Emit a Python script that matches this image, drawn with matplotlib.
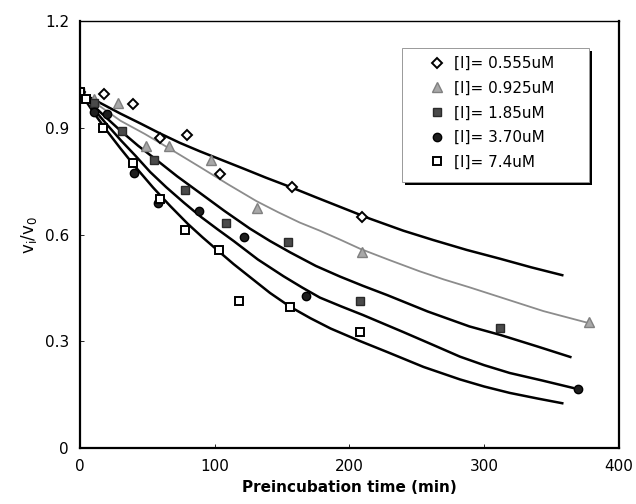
import matplotlib
matplotlib.use('Agg')
import matplotlib.pyplot as plt
from matplotlib.patches import Rectangle

# measured points (time in min, vi/v0)
t_0555 = [0, 18, 39, 59, 79, 104, 157, 209]
v_0555 = [1.0, 0.995, 0.967, 0.871, 0.88, 0.77, 0.734, 0.649]
t_0925 = [0, 10, 28, 49, 66, 97, 131, 209, 378]
v_0925 = [1.0, 0.98, 0.97, 0.85, 0.85, 0.81, 0.674, 0.551, 0.354]
t_185 = [0, 10, 31, 55, 78, 108, 154, 208, 312]
v_185 = [1.0, 0.97, 0.89, 0.81, 0.725, 0.632, 0.58, 0.413, 0.337]
t_370 = [0, 10, 20, 40, 58, 88, 122, 168, 370]
v_370 = [1.0, 0.945, 0.94, 0.772, 0.689, 0.667, 0.593, 0.428, 0.165]
t_74 = [0, 4, 17, 39, 59, 78, 103, 118, 156, 208]
v_74 = [1.0, 0.98, 0.90, 0.80, 0.70, 0.613, 0.558, 0.413, 0.397, 0.325]

# fitted curves
fit_t_0555 = [0, 15, 30, 45, 59, 74, 89, 105, 121, 138, 156, 175, 193, 215, 240, 262, 287, 312, 335, 358]
fit_v_0555 = [1.0, 0.97, 0.94, 0.912, 0.885, 0.858, 0.834, 0.81, 0.786, 0.76, 0.734, 0.705, 0.678, 0.645, 0.611, 0.585, 0.557, 0.532, 0.508, 0.486]
fit_t_0925 = [0, 15, 30, 48, 65, 89, 110, 131, 147, 163, 178, 193, 208, 230, 252, 270, 289, 312, 344, 378]
fit_v_0925 = [1.0, 0.96, 0.92, 0.883, 0.845, 0.79, 0.741, 0.694, 0.663, 0.634, 0.611, 0.586, 0.560, 0.528, 0.497, 0.474, 0.452, 0.424, 0.385, 0.351]
fit_t_185 = [0, 15, 30, 43, 56, 72, 89, 107, 126, 141, 156, 175, 193, 210, 228, 258, 289, 312, 340, 364]
fit_v_185 = [1.0, 0.944, 0.892, 0.85, 0.812, 0.764, 0.717, 0.667, 0.617, 0.582, 0.55, 0.512, 0.482, 0.456, 0.43, 0.384, 0.342, 0.318, 0.285, 0.256]
fit_t_370 = [0, 10, 20, 30, 41, 52, 64, 77, 90, 102, 114, 132, 151, 165, 178, 194, 210, 240, 262, 282, 300, 319, 343, 366]
fit_v_370 = [1.0, 0.953, 0.909, 0.866, 0.822, 0.776, 0.733, 0.69, 0.649, 0.615, 0.582, 0.53, 0.483, 0.451, 0.423, 0.398, 0.374, 0.326, 0.29, 0.257, 0.233, 0.211, 0.19, 0.169]
fit_t_74 = [0, 10, 20, 30, 40, 54, 67, 80, 91, 102, 114, 126, 141, 156, 171, 186, 207, 228, 255, 282, 300, 319, 340, 358]
fit_v_74 = [1.0, 0.943, 0.891, 0.842, 0.795, 0.733, 0.68, 0.63, 0.592, 0.556, 0.517, 0.481, 0.436, 0.397, 0.365, 0.336, 0.302, 0.27, 0.228, 0.193, 0.173, 0.155, 0.139, 0.126]

fig = plt.figure(figsize=(6.36, 5.04), dpi=100)
ax = fig.add_axes([0.126, 0.111, 0.847, 0.847])

# curves
ax.plot(fit_t_0555, fit_v_0555, '-', color='black', lw=1.8)
ax.plot(fit_t_0925, fit_v_0925, '-', color='#8c8c8c', lw=1.3)
ax.plot(fit_t_185, fit_v_185, '-', color='black', lw=1.8)
ax.plot(fit_t_370, fit_v_370, '-', color='black', lw=1.8)
ax.plot(fit_t_74, fit_v_74, '-', color='black', lw=1.8)

# data points
ax.plot(t_0555, v_0555, 'D', ms=5.5, mfc='white', mec='black', mew=1.4,
        ls='none', label='[I]= 0.555uM')
ax.plot(t_0925, v_0925, '^', ms=7, mfc='#a8a8a8', mec='#808080', mew=1,
        ls='none', label='[I]= 0.925uM')
ax.plot(t_185, v_185, 's', ms=6, mfc='#4a4a4a', mec='#2a2a2a', mew=1,
        ls='none', label='[I]= 1.85uM')
ax.plot(t_370, v_370, 'o', ms=6, mfc='#1e1e1e', mec='black', mew=1,
        ls='none', label='[I]= 3.70uM')
ax.plot(t_74, v_74, 's', ms=6, mfc='white', mec='black', mew=1.4,
        ls='none', label='[I]= 7.4uM')

ax.set_xlim(0, 400)
ax.set_ylim(0, 1.2)
ax.set_xticks([0, 100, 200, 300, 400])
ax.set_yticks([0, 0.3, 0.6, 0.9, 1.2])
ax.set_yticklabels(['0', '0.3', '0.6', '0.9', '1.2'])
ax.tick_params(direction='in', length=3, width=0.6, labelsize=11, pad=8)
for s in ax.spines.values():
    s.set_linewidth(1.6)
ax.spines['top'].set_linewidth(1.0)

ax.set_xlabel('Preincubation time (min)', fontsize=11, fontweight='bold', labelpad=4)
ax.set_ylabel('v$_\\mathregular{i}$/v$_\\mathregular{0}$', fontsize=12, labelpad=4)

# legend box with a dark shadow on the right and bottom
ax.add_patch(Rectangle((0.603, 0.616), 0.347, 0.314, transform=ax.transAxes,
                       facecolor='black', edgecolor='none', zorder=5))
ax.add_patch(Rectangle((0.597, 0.623), 0.347, 0.314, transform=ax.transAxes,
                       facecolor='white', edgecolor='#999999', lw=0.7, zorder=6))

leg = ax.legend(loc='upper left', bbox_to_anchor=(0.649, 0.918), borderaxespad=0,
                fontsize=11, frameon=False, handletextpad=0.6, borderpad=0,
                handlelength=1.0, labelspacing=0.63)
leg.set_zorder(7)

fig.savefig('out.png', dpi=100)
